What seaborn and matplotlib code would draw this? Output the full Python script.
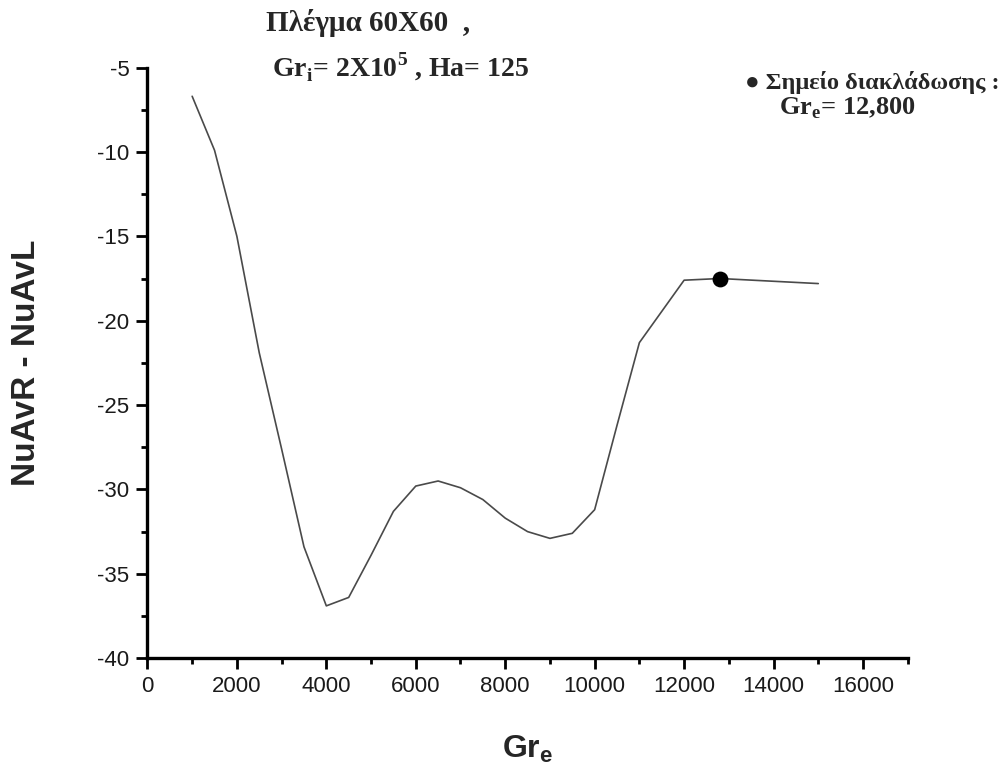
import matplotlib
matplotlib.use("Agg")
import matplotlib.pyplot as plt
from matplotlib.ticker import MultipleLocator
import seaborn as sns
import pandas as pd

# Grashof number (Gr_e) and difference of average Nusselt numbers
gr_e = [1000, 1500, 2000, 2500, 3000, 3500, 4000, 4500, 5000, 5500, 6000,
        6500, 7000, 7500, 8000, 8500, 9000, 9500, 10000, 10500, 11000,
        12000, 12800, 15000]
nu_diff = [-6.7, -9.9, -15.0, -21.9, -27.6, -33.4, -36.9, -36.4, -33.9,
           -31.3, -29.8, -29.5, -29.9, -30.6, -31.7, -32.5, -32.9, -32.6,
           -31.2, -26.2, -21.3, -17.6, -17.5, -17.8]

# bifurcation point
bif_x = [12800]
bif_y = [-17.5]

x_ticks = [0, 2000, 4000, 6000, 8000, 10000, 12000, 14000, 16000]
y_ticks = [-40, -35, -30, -25, -20, -15, -10, -5]

sns.set_style("ticks")
plt.rcParams["font.family"] = ["Liberation Sans", "DejaVu Sans"]
plt.rcParams["axes.unicode_minus"] = False
plt.rcParams["mathtext.fontset"] = "custom"
plt.rcParams["mathtext.rm"] = "Liberation Serif:bold"
plt.rcParams["mathtext.bf"] = "Liberation Serif:bold"
plt.rcParams["mathtext.sf"] = "Liberation Sans:bold"

df = pd.DataFrame({"Gr_e": gr_e, "dNu": nu_diff})

fig = plt.figure(figsize=(10.03, 7.68), dpi=100)
ax = fig.add_axes([0.147, 0.143, 0.758, 0.769])

sns.lineplot(data=df, x="Gr_e", y="dNu", ax=ax, color="#4a4a4a", lw=1.2,
             sort=False, estimator=None)
sns.scatterplot(x=bif_x, y=bif_y, ax=ax, color="black", s=130,
                edgecolor="black", linewidth=0, zorder=5)

ax.set_xlim(0, 17000)
ax.set_ylim(-40, -5)
ax.set_xticks(x_ticks)
ax.set_yticks(y_ticks)
ax.xaxis.set_minor_locator(MultipleLocator(1000))
ax.yaxis.set_minor_locator(MultipleLocator(2.5))

for side in ("top", "right"):
    ax.spines[side].set_visible(False)
for side in ("left", "bottom"):
    ax.spines[side].set_linewidth(2.4)
    ax.spines[side].set_color("black")

ax.tick_params(axis="both", which="major", direction="out", length=8,
               width=2, color="black", labelsize=16, labelcolor="#1a1a1a",
               pad=5)
ax.tick_params(axis="both", which="minor", direction="out", length=4,
               width=2, color="black")

ax.set_xlabel(r"Gr$_\mathsf{e}$", fontsize=23, fontweight="bold",
              labelpad=26)
ax.set_ylabel("NuAvR - NuAvL", fontsize=24, fontweight="bold", labelpad=40)

serif = ["Liberation Serif", "DejaVu Serif"]
fig.text(0.265, 0.970, "Πλέγμα 60Χ60  ,", family=serif, fontweight="bold",
         fontsize=21, ha="left", va="center")
fig.text(0.271, 0.912, r"Gr$_\mathrm{i}$= 2X10$^\mathrm{5}$ , Ha= 125",
         family=serif, fontweight="bold", fontsize=20, ha="left",
         va="center")
fig.text(0.997, 0.893, "● Σημείο διακλάδωσης :",
         family=["Liberation Serif", "DejaVu Sans"], fontweight="bold",
         fontsize=17.5, ha="right", va="center")
fig.text(0.845, 0.859, r"Gr$_\mathrm{e}$= 12,800", family=serif,
         fontweight="bold", fontsize=19, ha="center", va="center")

fig.savefig("out.png", dpi=100, facecolor="white")
